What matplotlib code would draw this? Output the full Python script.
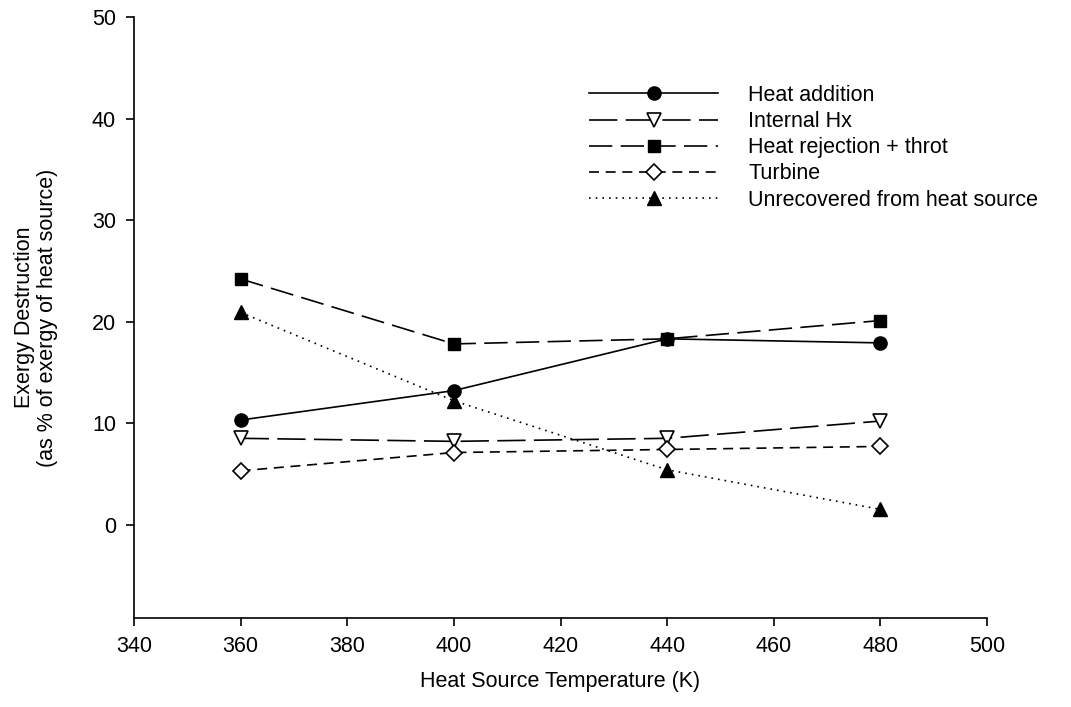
import matplotlib
matplotlib.use("Agg")
import matplotlib.pyplot as plt

plt.rcParams['font.family'] = ['Liberation Sans', 'DejaVu Sans']

# Werte
temps = [360, 400, 440, 480]
heat_addition = [10.3, 13.2, 18.3, 17.9]
internal_hx = [8.5, 8.2, 8.5, 10.2]
heat_rejection = [24.2, 17.8, 18.3, 20.1]
turbine = [5.3, 7.1, 7.4, 7.7]
unrecovered = [20.9, 12.2, 5.4, 1.5]

x_ticks = [340, 360, 380, 400, 420, 440, 460, 480, 500]
y_ticks = [0, 10, 20, 30, 40, 50]

fs = 15.5

fig = plt.figure(figsize=(10.71, 7.07), dpi=100)
ax = fig.add_axes([0.1251, 0.1259, 0.7965, 0.850])

lw = 1.2
ms = 9.5
ax.plot(temps, heat_addition, color='black', lw=lw, ls='-', marker='o', ms=ms,
        label='Heat addition')
ax.plot(temps, internal_hx, color='black', lw=lw, ls=(0, (17, 5)), marker='v', ms=ms,
        mfc='white', mec='black', mew=1.2, label='Internal Hx')
ax.plot(temps, heat_rejection, color='black', lw=lw, ls=(0, (14, 5)), marker='s', ms=ms - 1,
        label='Heat rejection + throt')
ax.plot(temps, turbine, color='black', lw=lw, ls=(0, (6, 4)), marker='D', ms=ms - 1,
        mfc='white', mec='black', mew=1.2, label='Turbine')
ax.plot(temps, unrecovered, color='black', lw=lw, ls=(0, (1, 3)), marker='^', ms=ms,
        label='Unrecovered from heat source')

ax.set_xlim(340, 500)
ax.set_ylim(-9.2, 50)
ax.set_xticks(x_ticks)
ax.set_yticks(y_ticks)
ax.tick_params(direction='out', length=6, width=1.2, labelsize=fs, pad=7)

for side in ['top', 'right']:
    ax.spines[side].set_visible(False)
for side in ['left', 'bottom']:
    ax.spines[side].set_linewidth(1.2)

ax.set_xlabel('Heat Source Temperature (K)', fontsize=fs, labelpad=10)
ax.set_ylabel('Exergy Destruction\n(as % of exergy of heat source)', fontsize=fs,
              labelpad=24, linespacing=1.15)

ax.legend(loc='upper left', bbox_to_anchor=(0.521, 0.905), frameon=False, fontsize=fs,
          handlelength=6.0, numpoints=1, handletextpad=1.4, labelspacing=0.24,
          borderpad=0)

fig.savefig('out.png', dpi=100)
